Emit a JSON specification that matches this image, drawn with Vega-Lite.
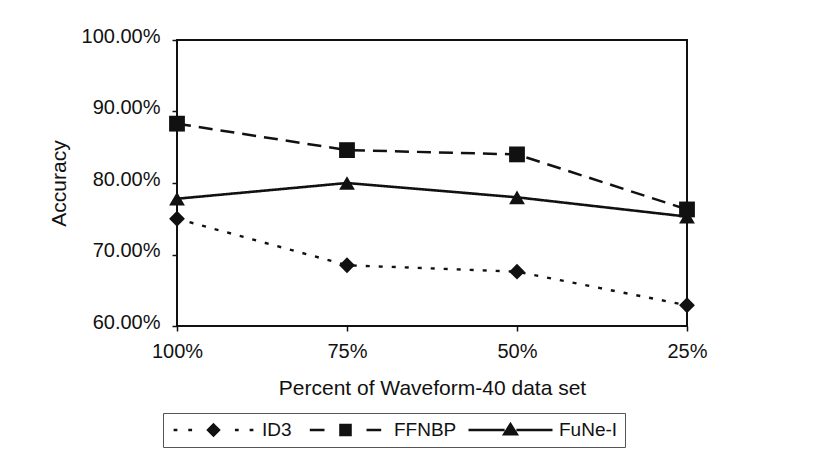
{
  "$schema": "https://vega.github.io/schema/vega-lite/v6.json",
  "width": 510,
  "height": 286,
  "autosize": {"type": "none"},
  "padding": {"left": 177, "top": 40, "right": 126, "bottom": 143},
  "background": "white",
  "config": {
    "view": {"stroke": "#111", "strokeWidth": 2},
    "font": "Liberation Sans",
    "axis": {
      "labelFont": "Liberation Sans",
      "labelFontSize": 20,
      "labelColor": "#111",
      "titleFont": "Liberation Sans",
      "titleFontSize": 21,
      "titleFontWeight": "normal",
      "titleColor": "#111",
      "domain": false,
      "grid": false,
      "tickColor": "#111",
      "tickSize": 5,
      "tickWidth": 1.5
    }
  },
  "data": {
    "values": [
      {"percent": "100%", "series": "ID3", "accuracy": 0.750},
      {"percent": "75%", "series": "ID3", "accuracy": 0.685},
      {"percent": "50%", "series": "ID3", "accuracy": 0.676},
      {"percent": "25%", "series": "ID3", "accuracy": 0.629},
      {"percent": "100%", "series": "FFNBP", "accuracy": 0.883},
      {"percent": "75%", "series": "FFNBP", "accuracy": 0.846},
      {"percent": "50%", "series": "FFNBP", "accuracy": 0.840},
      {"percent": "25%", "series": "FFNBP", "accuracy": 0.763},
      {"percent": "100%", "series": "FuNe-I", "accuracy": 0.778},
      {"percent": "75%", "series": "FuNe-I", "accuracy": 0.800},
      {"percent": "50%", "series": "FuNe-I", "accuracy": 0.780},
      {"percent": "25%", "series": "FuNe-I", "accuracy": 0.753}
    ]
  },
  "encoding": {
    "x": {
      "field": "percent",
      "type": "ordinal",
      "scale": {"type": "point", "padding": 0, "domain": ["100%", "75%", "50%", "25%"]},
      "axis": {"title": "Percent of Waveform-40 data set", "labelAngle": 0, "labelPadding": 10, "titlePadding": 16}
    },
    "y": {
      "field": "accuracy",
      "type": "quantitative",
      "scale": {"domain": [0.6, 1.0], "nice": false, "zero": false},
      "axis": {"title": "Accuracy", "format": ".2%", "values": [0.6, 0.7, 0.8, 0.9, 1.0], "labelPadding": 12, "labelOffset": -4, "titlePadding": 12}
    }
  },
  "resolve": {"scale": {"shape": "independent"}, "legend": {"shape": "independent"}},
  "layer": [
    {
      "mark": {"type": "line", "color": "#111"},
      "encoding": {
        "detail": {"field": "series"},
        "strokeDash": {
          "field": "series",
          "type": "nominal",
          "scale": {"domain": ["FuNe-I", "FFNBP", "ID3"], "range": [[1, 0], [14, 8], [4, 9]]},
          "legend": null
        },
        "strokeWidth": {
          "field": "series",
          "type": "nominal",
          "scale": {"domain": ["FuNe-I", "FFNBP", "ID3"], "range": [2.6, 2.4, 3]},
          "legend": null
        }
      }
    },
    {
      "mark": {"type": "point", "filled": true, "opacity": 1, "color": "#111", "size": 250},
      "encoding": {
        "shape": {
          "field": "series",
          "type": "nominal",
          "scale": {"domain": ["FFNBP", "FuNe-I", "ID3"], "range": ["square", "triangle-up", "diamond"]},
          "legend": null
        }
      }
    },
    {
      "mark": {"type": "point", "filled": false, "color": "#111", "strokeWidth": 2.5, "opacity": 0},
      "encoding": {
        "shape": {
          "field": "series",
          "type": "nominal",
          "scale": {
            "domain": ["ID3", "FFNBP", "FuNe-I"],
            "range": [
              "M-0.95,0L-0.86,0M-0.6,0L-0.51,0M0.51,0L0.6,0M0.86,0L0.95,0M0,-0.13L0.13,0L0,0.13L-0.13,0ZM0,-0.08L0.08,0L0,0.08L-0.08,0ZM0,-0.03L0.03,0L0,0.03L-0.03,0Z",
              "M-0.85,0L-0.5,0M0.5,0L0.85,0M-0.12,-0.12L0.12,-0.12L0.12,0.12L-0.12,0.12ZM-0.07,-0.07L0.07,-0.07L0.07,0.07L-0.07,0.07ZM-0.02,-0.02L0.02,-0.02L0.02,0.02L-0.02,0.02Z",
              "M-1,0L-0.14,0M0.14,0L1,0M0,-0.14L0.15,0.1L-0.15,0.1ZM0,-0.076L0.09,0.068L-0.09,0.068ZM0,-0.01L0.037,0.05L-0.037,0.05Z"
            ]
          },
          "legend": {
            "title": null,
            "orient": "none",
            "direction": "horizontal",
            "legendX": -14,
            "legendY": 373,
            "strokeColor": "#555",
            "fillColor": "white",
            "padding": 7,
            "symbolSize": 7056,
            "clipHeight": 20,
            "symbolOpacity": 1,
            "symbolStrokeWidth": 2.5,
            "labelFont": "Liberation Sans",
            "labelFontSize": 19,
            "labelColor": "#111",
            "labelOffset": 5,
            "columnPadding": 10
          }
        }
      }
    }
  ]
}
